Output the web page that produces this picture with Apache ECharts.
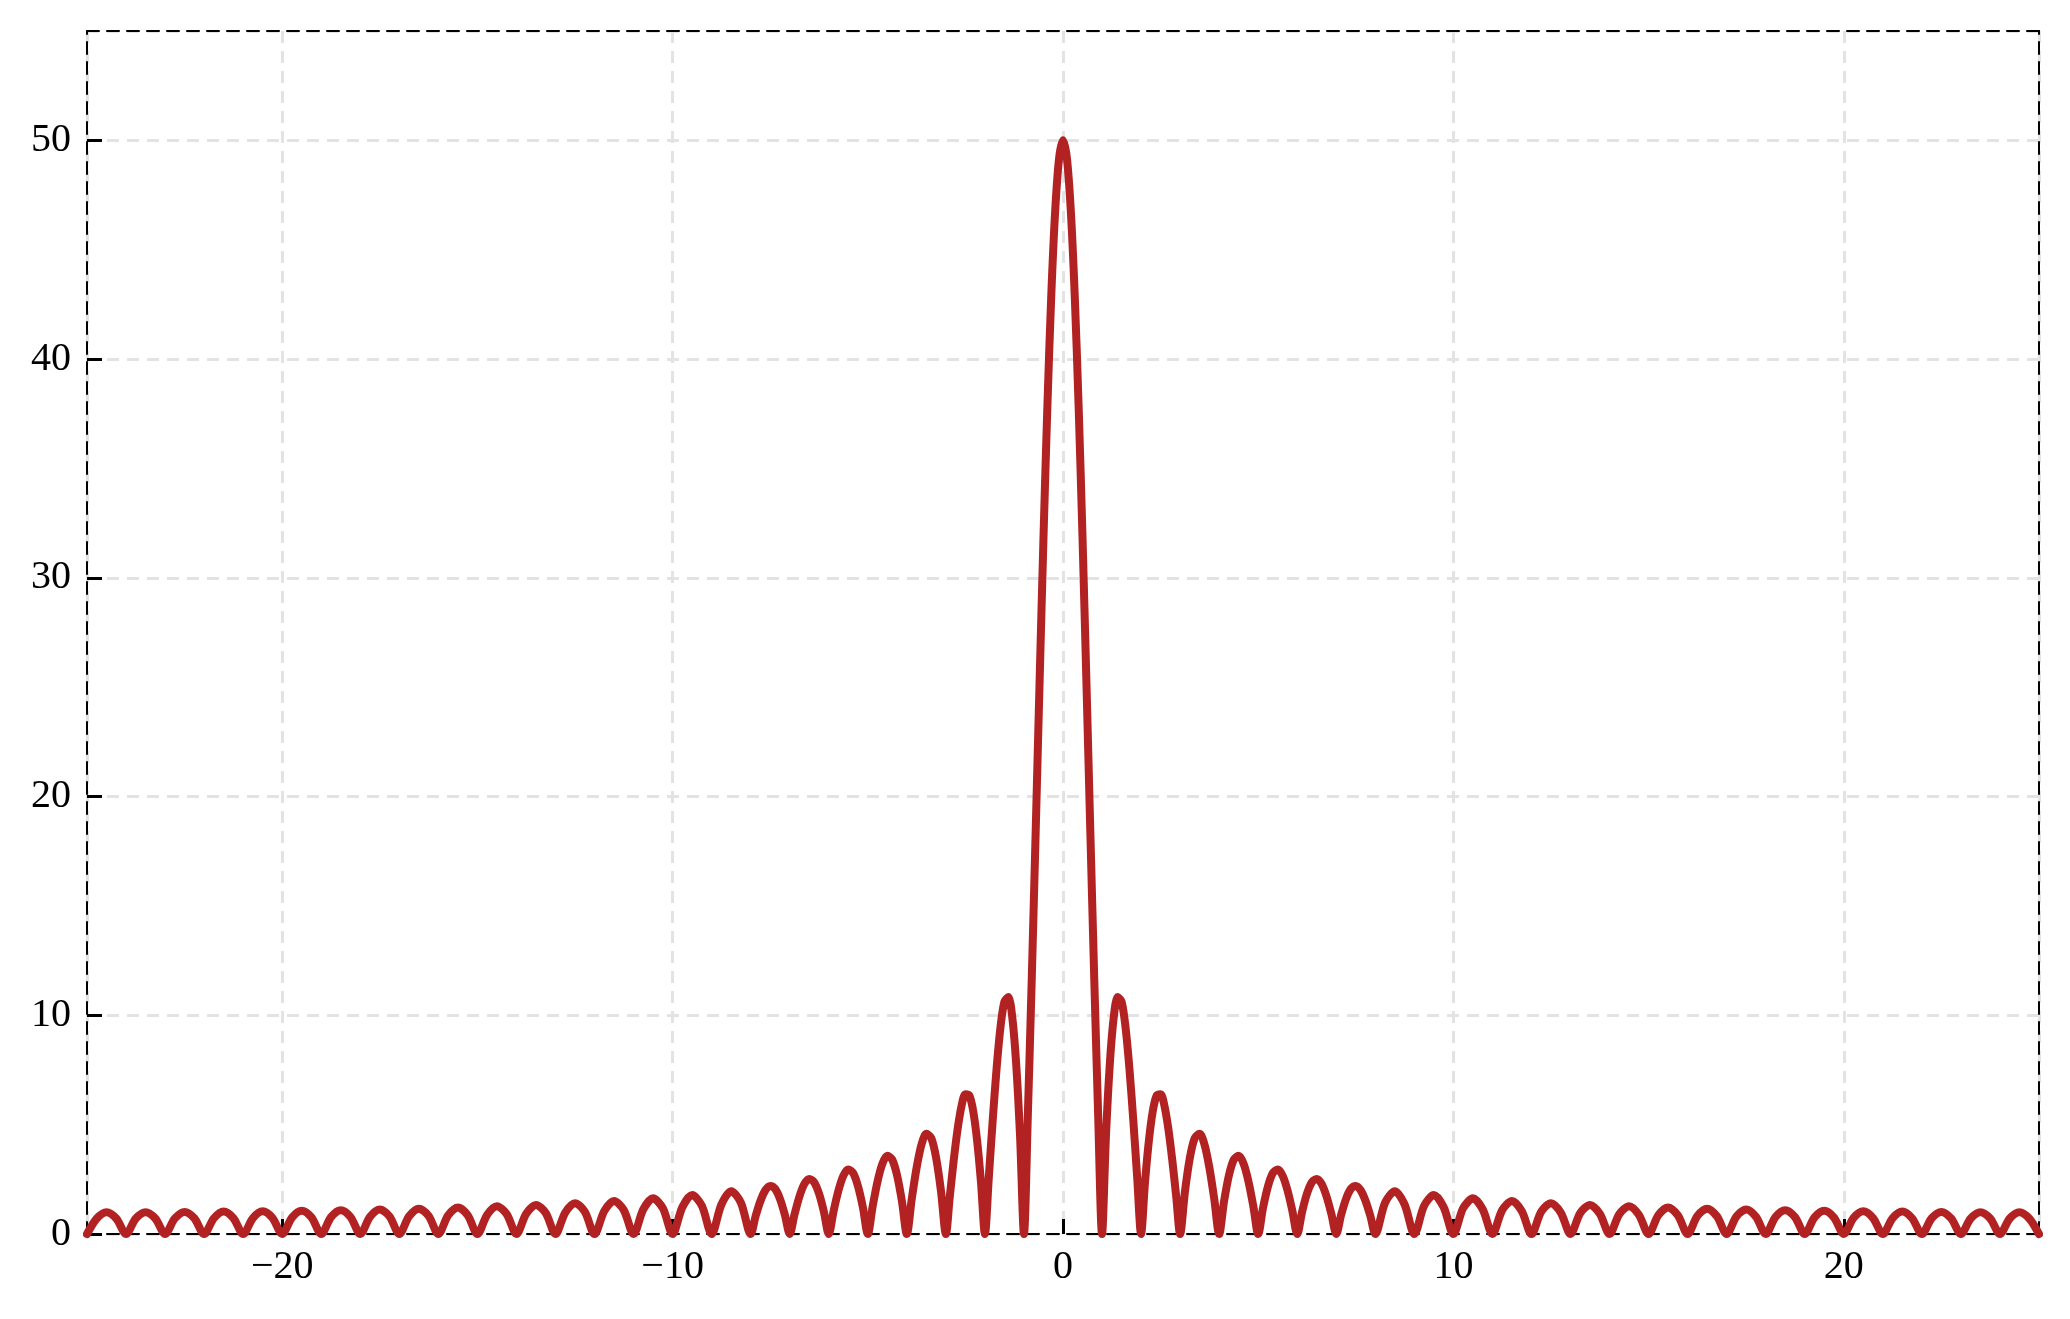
<!DOCTYPE html>
<html>
<head>
<meta charset="utf-8">
<script src="https://cdn.jsdelivr.net/npm/echarts@6/dist/echarts.min.js"></script>
<style>
  html, body { margin: 0; padding: 0; background: #fff; }
  #main-chart { width: 2070px; height: 1319px; }
</style>
</head>
<body>
<div id="main-chart"></div>
<script>
// axis ranges / ticks
const xRange = [-25, 25];
const yRange = [0, 55];
const yTickStep = 10;

// curve, grouped by lobe (x, amplitude)
const leftSide = [
  [-25, 0], [-24.75, 0.71], [-24.5, 1.0], [-24.25, 0.71], [-24, 0],
  [-23.75, 0.71], [-23.5, 1.0], [-23.25, 0.71], [-23, 0],
  [-22.75, 0.71], [-22.5, 1.01], [-22.25, 0.72], [-22, 0],
  [-21.75, 0.72], [-21.5, 1.03], [-21.25, 0.73], [-21, 0],
  [-20.75, 0.73], [-20.5, 1.04], [-20.25, 0.74], [-20, 0],
  [-19.75, 0.75], [-19.5, 1.06], [-19.25, 0.76], [-19, 0],
  [-18.75, 0.77], [-18.5, 1.09], [-18.25, 0.78], [-18, 0],
  [-17.75, 0.79], [-17.5, 1.12], [-17.25, 0.80], [-17, 0],
  [-16.75, 0.81], [-16.5, 1.16], [-16.25, 0.83], [-16, 0],
  [-15.75, 0.85], [-15.5, 1.21], [-15.25, 0.86], [-15, 0],
  [-14.75, 0.88], [-14.5, 1.27], [-14.25, 0.91], [-14, 0],
  [-13.75, 0.93], [-13.5, 1.33], [-13.25, 0.96], [-13, 0],
  [-12.75, 0.98], [-12.5, 1.41], [-12.25, 1.02], [-12, 0],
  [-11.75, 1.05], [-11.5, 1.51], [-11.25, 1.09], [-11, 0],
  [-10.75, 1.13], [-10.5, 1.63], [-10.25, 1.18], [-10, 0],
  [-9.75, 1.23], [-9.5, 1.78], [-9.25, 1.29], [-9, 0],
  [-8.75, 1.35], [-8.5, 1.96], [-8.25, 1.43], [-8, 0],
  [-7.875, 0.81], [-7.75, 1.51], [-7.625, 2.00], [-7.5, 2.20], [-7.375, 2.07], [-7.25, 1.61], [-7.125, 0.88], [-7, 0],
  [-6.875, 0.91], [-6.75, 1.72], [-6.625, 2.29], [-6.5, 2.52], [-6.375, 2.37], [-6.25, 1.85], [-6.125, 1.02], [-6, 0],
  [-5.875, 1.06], [-5.75, 2.00], [-5.625, 2.67], [-5.5, 2.95], [-5.375, 2.79], [-5.25, 2.18], [-5.125, 1.21], [-5, 0],
  [-4.875, 1.27], [-4.75, 2.41], [-4.625, 3.22], [-4.5, 3.58], [-4.375, 3.40], [-4.25, 2.68], [-4.125, 1.49], [-4, 0],
  [-3.875, 1.59], [-3.75, 3.03], [-3.625, 4.09], [-3.5, 4.58], [-3.375, 4.39], [-3.25, 3.49], [-3.125, 1.96], [-3, 0],
  [-2.9, 1.71], [-2.8, 3.36], [-2.7, 4.79], [-2.6, 5.85], [-2.5, 6.39],
  [-2.4, 6.33], [-2.3, 5.62], [-2.2, 4.27], [-2.1, 2.35], [-2, 0],
  [-1.9, 2.60], [-1.8, 5.21], [-1.7, 7.59], [-1.6, 9.48], [-1.5, 10.63],
  [-1.4, 10.83], [-1.3, 9.92], [-1.2, 7.80], [-1.1, 4.48], [-1, 0],
  [-0.9, 5.47], [-0.8, 11.70], [-0.7, 18.40], [-0.6, 25.23], [-0.5, 31.84],
  [-0.4, 37.85], [-0.3, 42.93], [-0.2, 46.78], [-0.1, 49.18]
];
const peak = [[0, 50]];
const rightSide = [
  [0.1, 49.18], [0.2, 46.78], [0.3, 42.93], [0.4, 37.85], [0.5, 31.84],
  [0.6, 25.23], [0.7, 18.40], [0.8, 11.70], [0.9, 5.47], [1, 0],
  [1.1, 4.48], [1.2, 7.80], [1.3, 9.92], [1.4, 10.83], [1.5, 10.63],
  [1.6, 9.48], [1.7, 7.59], [1.8, 5.21], [1.9, 2.60], [2, 0],
  [2.1, 2.35], [2.2, 4.27], [2.3, 5.62], [2.4, 6.33], [2.5, 6.39],
  [2.6, 5.85], [2.7, 4.79], [2.8, 3.36], [2.9, 1.71], [3, 0],
  [3.125, 1.96], [3.25, 3.49], [3.375, 4.39], [3.5, 4.58], [3.625, 4.09], [3.75, 3.03], [3.875, 1.59], [4, 0],
  [4.125, 1.49], [4.25, 2.68], [4.375, 3.40], [4.5, 3.58], [4.625, 3.22], [4.75, 2.41], [4.875, 1.27], [5, 0],
  [5.125, 1.21], [5.25, 2.18], [5.375, 2.79], [5.5, 2.95], [5.625, 2.67], [5.75, 2.00], [5.875, 1.06], [6, 0],
  [6.125, 1.02], [6.25, 1.85], [6.375, 2.37], [6.5, 2.52], [6.625, 2.29], [6.75, 1.72], [6.875, 0.91], [7, 0],
  [7.125, 0.88], [7.25, 1.61], [7.375, 2.07], [7.5, 2.20], [7.625, 2.00], [7.75, 1.51], [7.875, 0.81], [8, 0],
  [8.25, 1.43], [8.5, 1.96], [8.75, 1.35], [9, 0],
  [9.25, 1.29], [9.5, 1.78], [9.75, 1.23], [10, 0],
  [10.25, 1.18], [10.5, 1.63], [10.75, 1.13], [11, 0],
  [11.25, 1.09], [11.5, 1.51], [11.75, 1.05], [12, 0],
  [12.25, 1.02], [12.5, 1.41], [12.75, 0.98], [13, 0],
  [13.25, 0.96], [13.5, 1.33], [13.75, 0.93], [14, 0],
  [14.25, 0.91], [14.5, 1.27], [14.75, 0.88], [15, 0],
  [15.25, 0.86], [15.5, 1.21], [15.75, 0.85], [16, 0],
  [16.25, 0.83], [16.5, 1.16], [16.75, 0.81], [17, 0],
  [17.25, 0.80], [17.5, 1.12], [17.75, 0.79], [18, 0],
  [18.25, 0.78], [18.5, 1.09], [18.75, 0.77], [19, 0],
  [19.25, 0.76], [19.5, 1.06], [19.75, 0.75], [20, 0],
  [20.25, 0.74], [20.5, 1.04], [20.75, 0.73], [21, 0],
  [21.25, 0.73], [21.5, 1.03], [21.75, 0.72], [22, 0],
  [22.25, 0.72], [22.5, 1.01], [22.75, 0.71], [23, 0],
  [23.25, 0.71], [23.5, 1.0], [23.75, 0.71], [24, 0],
  [24.25, 0.71], [24.5, 1.0], [24.75, 0.71], [25, 0]
];

const curve = leftSide.concat(peak, rightSide);

const fontFamily = '"Liberation Serif", "Times New Roman", serif';
const frameLine = { color: '#000', width: 2, type: [12, 8] };
const gridLine = { color: '#e3e3e3', width: 3, type: [12, 8] };

const myChart = echarts.init(document.getElementById('main-chart'));

const option = {
    animation: false,
    backgroundColor: '#fff',
    grid: { left: 87, right: 31, top: 31, bottom: 85, containLabel: false },

    xAxis: [{
        type: 'value',
        min: xRange[0],
        max: xRange[1],
        position: 'bottom',
        axisLine: { show: true, onZero: false, lineStyle: frameLine },
        axisTick: { show: true, inside: true, length: 15, lineStyle: { color: '#000', width: 3 } },
        axisLabel: {
            showMinLabel: false,
            showMaxLabel: false,
            color: '#000',
            fontFamily: fontFamily,
            fontSize: 40,
            margin: 13,
            // matplotlib style minus sign
            formatter: v => (v < 0 ? '\u2212' + Math.abs(v) : String(v))
        },
        splitLine: { show: true, lineStyle: gridLine }
    }, {
        type: 'value',
        min: xRange[0],
        max: xRange[1],
        position: 'top',
        axisLine: { show: true, onZero: false, lineStyle: frameLine },
        axisTick: { show: false },
        axisLabel: { show: false },
        splitLine: { show: false }
    }],

    yAxis: [{
        type: 'value',
        min: yRange[0],
        max: yRange[1],
        interval: yTickStep,
        position: 'left',
        axisLine: { show: true, onZero: false, lineStyle: frameLine },
        axisTick: { show: true, inside: true, length: 15, lineStyle: { color: '#000', width: 3 } },
        axisLabel: {
            showMaxLabel: false,
            color: '#000',
            fontFamily: fontFamily,
            fontSize: 40,
            margin: 16
        },
        splitLine: { show: true, lineStyle: gridLine }
    }, {
        type: 'value',
        min: yRange[0],
        max: yRange[1],
        position: 'right',
        axisLine: { show: true, onZero: false, lineStyle: frameLine },
        axisTick: { show: false },
        axisLabel: { show: false },
        splitLine: { show: false }
    }],

    series: [{
        type: 'line',
        xAxisIndex: 0,
        yAxisIndex: 0,
        data: curve,
        showSymbol: false,
        smooth: 0.3,
        clip: false,
        lineStyle: { color: '#b22222', width: 8, join: 'round', cap: 'round' },
        z: 3
    }]
};

myChart.setOption(option);
</script>
</body>
</html>
